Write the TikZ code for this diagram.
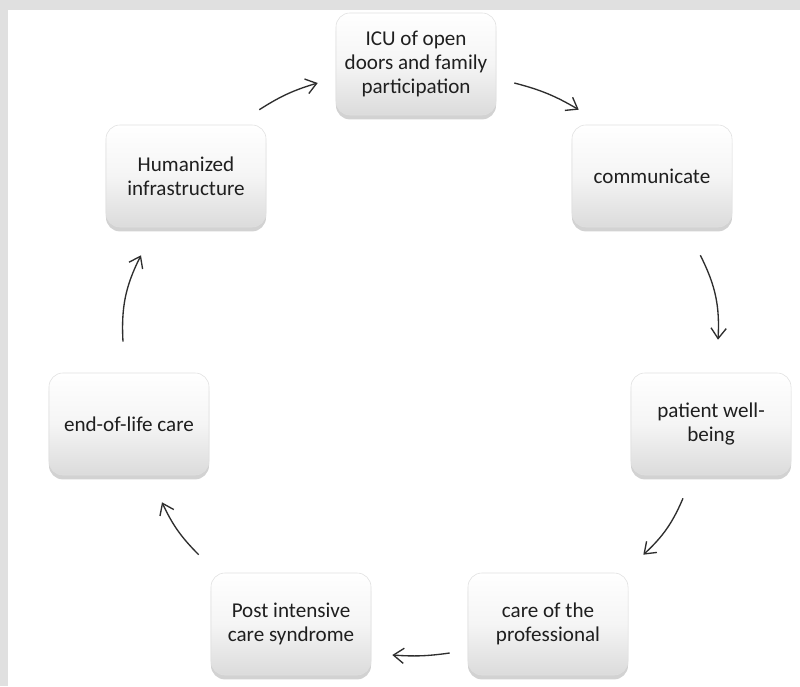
\documentclass[tikz,border=0pt]{standalone}
\usepackage{fontspec}
\setmainfont{Carlito}
\usepackage{tikz}
\usetikzlibrary{arrows.meta,shadows}

\begin{document}
\begin{tikzpicture}[x=0.025cm, y=0.025cm,
  font=\fontsize{15}{16.8}\selectfont,
  stage/.style={rectangle, rounded corners=3.5mm, draw=black!12,
                top color=white, bottom color=black!14,
                middle color=white!96!black,
                minimum width=4cm, minimum height=2.55cm,
                align=center, text=black!88,
                drop shadow={shadow xshift=0pt, shadow yshift=-1.1mm,
                             opacity=0.35}},
  cyc/.style={-{Straight Barb[length=2.6mm, width=3.8mm]},
              line width=0.95pt, black!82},
]

% === Frame ===
\fill[black!12] (0,0) rectangle (800,686);
\fill[white] (8,0) rectangle (800,676);
\useasboundingbox (0,0) rectangle (800,686);

% === Stages ===
\node[stage] (icu)  at (416,622) {ICU of open\\doors and family\\participation};
\node[stage] (com)  at (652,510) {communicate};
\node[stage] (pat)  at (711,262) {patient well-\\being};
\node[stage] (care) at (548,62)  {care of the\\professional};
\node[stage] (post) at (291,62)  {Post intensive\\care syndrome};
\node[stage] (eol)  at (129,262) {end-of-life care};
\node[stage] (hum)  at (186,510) {Humanized\\infrastructure};

% === Cycle ===
\draw[cyc] ([shift={(-7,15)}]hum.north east) to[bend left=8]
  ([shift={(-18,-19)}]icu.west);
\draw[cyc] ([shift={(18,-19)}]icu.east) to[bend left=8]
  ([shift={(7,15)}]com.north west);
\draw[cyc] ([shift={(-32,-28)}]com.south east) to[bend left=15]
  ([shift={(7,33)}]pat.north);
\draw[cyc] ([shift={(-28,-23)}]pat.south) to[bend left=12]
  ([shift={(15,18)}]care.north east);
\draw[cyc] ([shift={(-18,-29)}]care.west) to[bend left=6]
  ([shift={(21,-31)}]post.east);
\draw[cyc] ([shift={(-12,18)}]post.north west) to[bend left=10]
  ([shift={(33,-27)}]eol.south);
\draw[cyc] ([shift={(-6,31)}]eol.north) to[bend left=15]
  ([shift={(-45,-28)}]hum.south);

\end{tikzpicture}
\end{document}
